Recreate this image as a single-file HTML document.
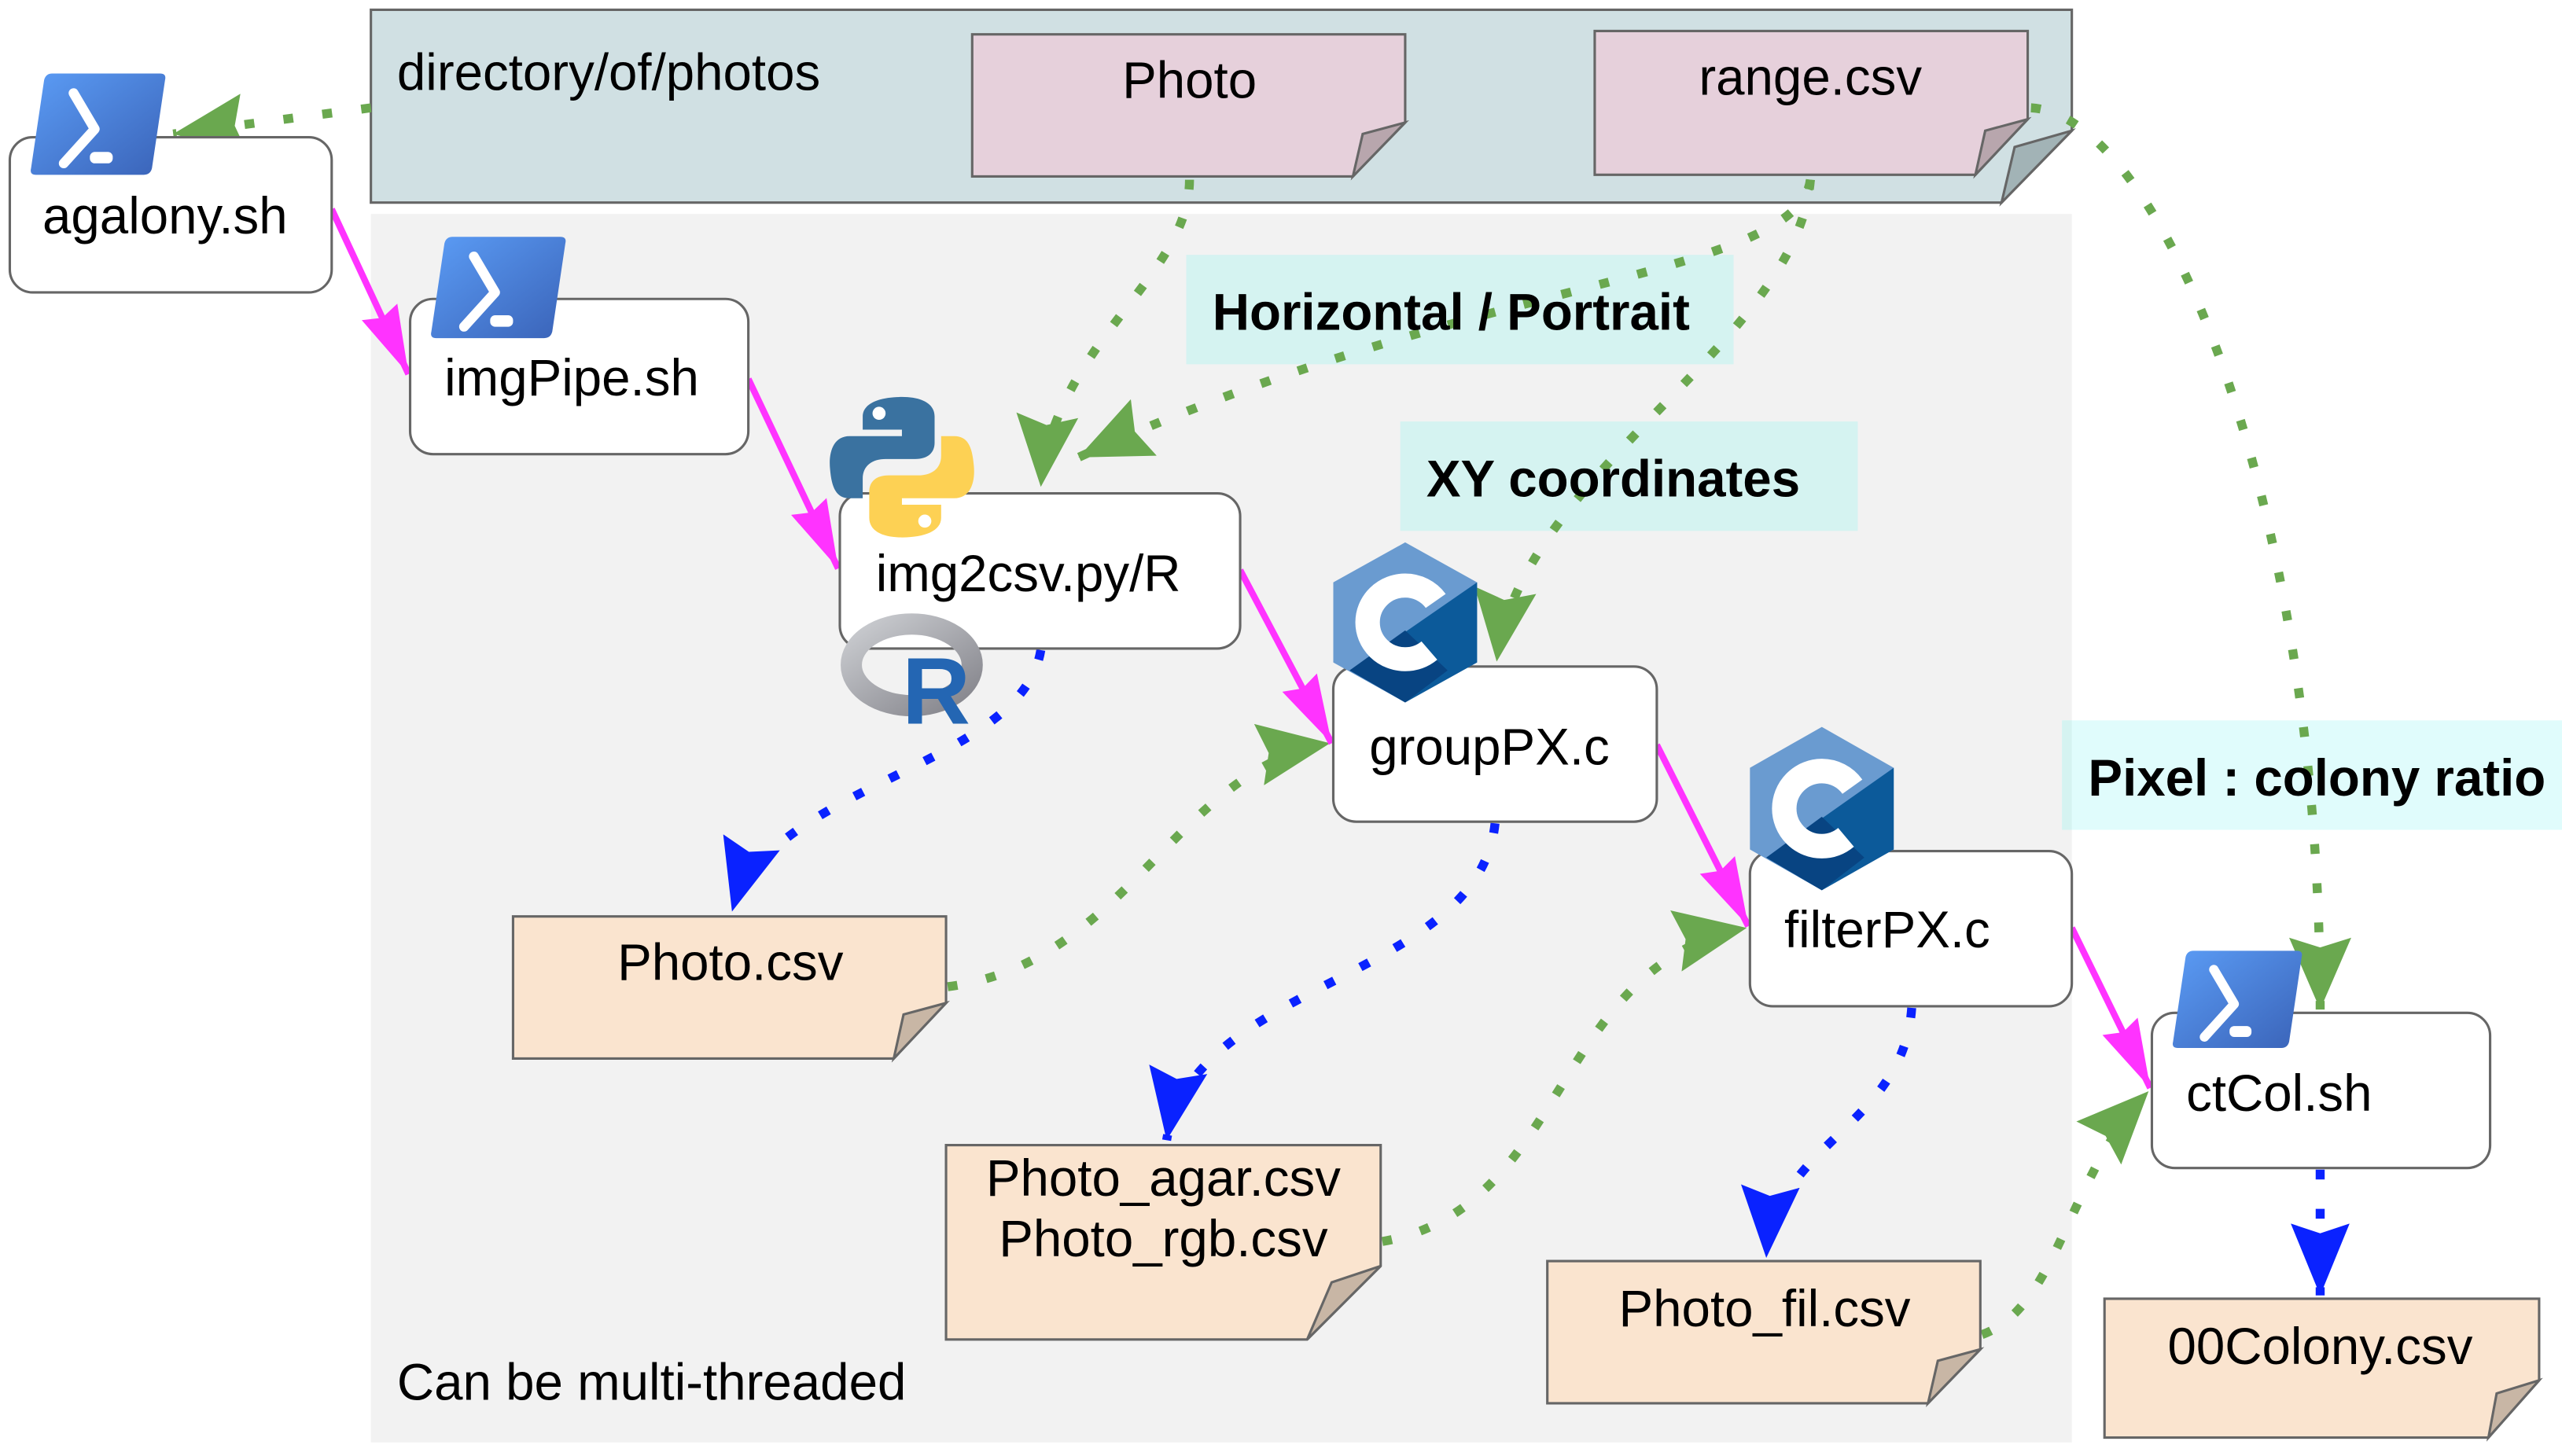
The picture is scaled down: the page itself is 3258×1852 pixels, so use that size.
<!DOCTYPE html>
<html><head><meta charset="utf-8"><style>
html,body{margin:0;padding:0;background:#fff}
svg{display:block}
text{font-family:"Liberation Sans",Arial,sans-serif;fill:#000}
</style></head><body>
<svg width="3258" height="1852" viewBox="0 0 1568 891.3" preserveAspectRatio="none" xmlns="http://www.w3.org/2000/svg">
<defs>
<marker id="mg" markerUnits="userSpaceOnUse" markerWidth="48" markerHeight="44" viewBox="0 0 48 44" refX="44" refY="22" orient="auto"><path d="M0,3 L44,22 L0,41 L6,22 Z" fill="#6aa84f"/></marker>
<marker id="mb" markerUnits="userSpaceOnUse" markerWidth="48" markerHeight="44" viewBox="0 0 48 44" refX="44" refY="22" orient="auto"><path d="M0,4 L44,22 L0,40 L6,22 Z" fill="#0a22ff"/></marker>
<marker id="mm" markerUnits="userSpaceOnUse" markerWidth="44" markerHeight="32" viewBox="0 0 44 32" refX="42" refY="16" orient="auto"><path d="M0,4 L42,16 L0,28 L4,16 Z" fill="#ff33ff"/></marker>
<linearGradient id="ps" x1="0" y1="0" x2="1" y2="1"><stop offset="0" stop-color="#5b9cf5"/><stop offset="1" stop-color="#3a63b8"/></linearGradient>
<linearGradient id="rg" x1="0" y1="0" x2="1" y2="1"><stop offset="0" stop-color="#cbcdd1"/><stop offset="1" stop-color="#84848b"/></linearGradient>
<g id="psi"><path d="M14,0 H80 Q84,0 83,4 L75,58 Q74,62 70,62 H4 Q0,62 1,58 L9,4 Q10,0 14,0 Z" fill="url(#ps)"/><path d="M27,12 L40,34 L21,55" fill="none" stroke="#fff" stroke-width="6" stroke-linecap="round" stroke-linejoin="round"/><rect x="37" y="48" width="14" height="7" rx="3" fill="#fff"/></g>
<g id="ci"><path d="M44,0 L88,25 L88,75 L44,100 L0,75 L0,25 Z" fill="#6a9bd0"/><path d="M88,25 L88,75 L44,100 L10,80 Z" fill="#0c5a9a"/><path d="M44,100 L10,80 L44,55 L70,80 Z" fill="#084482"/><circle cx="44" cy="50" r="23" fill="none" stroke="#fff" stroke-width="15" stroke-dasharray="110 40" stroke-dashoffset="-20"/></g>
</defs>

<rect x="227" y="131" width="1041" height="752" fill="#f2f2f2"/>
<path d="M227,6 H1268 V80 L1225,124 H227 Z" fill="#d0e0e3" stroke="#666" stroke-width="1.5"/>
<path d="M1268,80 L1233,90 L1225,124 Z" fill="#a2b3b6" stroke="#666" stroke-width="1.5"/>
<text x="243" y="55" font-size="31.5">directory/of/photos</text>

<path d="M595,21 H860 V75 L828,108 H595 Z" fill="#e6d0db" stroke="#666" stroke-width="1.5"/>
<path d="M860,75 L834,82 L828,108 Z" fill="#b8a6ad" stroke="#666" stroke-width="1.5"/>
<text x="728" y="60" font-size="31.5" text-anchor="middle">Photo</text>
<path d="M976,19 H1241 V73 L1209,107 H976 Z" fill="#e6d0db" stroke="#666" stroke-width="1.5"/>
<path d="M1241,73 L1215,80 L1209,107 Z" fill="#b8a6ad" stroke="#666" stroke-width="1.5"/>
<text x="1108" y="58" font-size="31.5" text-anchor="middle">range.csv</text>

<rect x="726" y="156" width="335" height="67" fill="#d5f3f1"/>
<rect x="857" y="258" width="280" height="67" fill="#d5f3f1"/>
<rect x="1262" y="441" width="306" height="67" fill="#e0fcfc"/>
<rect x="1262" y="441" width="6" height="67" fill="#d5f3f1"/>

<g fill="none" stroke="#6aa84f" stroke-width="5.5" stroke-dasharray="6 18">
<path d="M227,66 L106,82" marker-end="url(#mg)"/>
<path d="M728,110 C728,170 645,210 637,298" marker-end="url(#mg)"/>
<path d="M1108,110 C1100,170 900,170 660,280" marker-end="url(#mg)"/>
<path d="M1108,110 C1100,210 930,290 916,405" marker-end="url(#mg)"/>
<path d="M1243,66 C1320,70 1420,300 1420,618" marker-end="url(#mg)"/>
<path d="M580,604 C690,590 720,470 814,455" marker-end="url(#mg)"/>
<path d="M846,760 C960,740 950,590 1069,568" marker-end="url(#mg)"/>
<path d="M1213,817 C1260,800 1265,720 1315,668" marker-end="url(#mg)"/>
</g>
<g fill="none" stroke="#0a22ff" stroke-width="5.5" stroke-dasharray="6 18">
<path d="M637,398 C625,470 470,480 448,558" marker-end="url(#mb)"/>
<path d="M915,504 C905,600 730,600 714,698" marker-end="url(#mb)"/>
<path d="M1170,617 C1165,690 1085,700 1081,770" marker-end="url(#mb)"/>
<path d="M1420,716 L1420,793" marker-end="url(#mb)"/>
</g>
<g fill="none" stroke="#ff33ff" stroke-width="4">
<path d="M203,128 L250,229" marker-end="url(#mm)"/>
<path d="M458,232 L513,348" marker-end="url(#mm)"/>
<path d="M759,349 L815,455" marker-end="url(#mm)"/>
<path d="M1014,456 L1070,567" marker-end="url(#mm)"/>
<path d="M1268,568 L1316,666" marker-end="url(#mm)"/>
</g>

<text x="742" y="202" font-size="31.5" font-weight="bold">Horizontal / Portrait</text>
<text x="873" y="304" font-size="31.5" font-weight="bold">XY coordinates</text>
<text x="1278" y="487" font-size="31.5" font-weight="bold">Pixel : colony ratio</text>

<g fill="#fff" stroke="#666" stroke-width="1.5">
<rect x="6" y="84" width="197" height="95" rx="14"/>
<rect x="251" y="183" width="207" height="95" rx="14"/>
<rect x="514" y="302" width="245" height="95" rx="14"/>
<rect x="816" y="408" width="198" height="95" rx="14"/>
<rect x="1071" y="521" width="197" height="95" rx="14"/>
<rect x="1317" y="620" width="207" height="95" rx="14"/>
</g>
<g font-size="31.5">
<text x="26" y="143">agalony.sh</text>
<text x="272" y="242">imgPipe.sh</text>
<text x="536" y="362">img2csv.py/R</text>
<text x="838" y="468">groupPX.c</text>
<text x="1092" y="580">filterPX.c</text>
<text x="1338" y="680">ctCol.sh</text>
</g>

<g stroke="#666" stroke-width="1.5">
<path d="M314,561 H579 V614 L547,648 H314 Z" fill="#fae4cf"/>
<path d="M579,614 L553,621 L547,648 Z" fill="#c8b6a5"/>
<path d="M579,701 H845 V775 L800,820 H579 Z" fill="#fae4cf"/>
<path d="M845,775 L815,785 L800,820 Z" fill="#c8b6a5"/>
<path d="M947,772 H1212 V826 L1180,859 H947 Z" fill="#fae4cf"/>
<path d="M1212,826 L1186,833 L1180,859 Z" fill="#c8b6a5"/>
<path d="M1288,795 H1554 V845 L1523,880 H1288 Z" fill="#fae4cf"/>
<path d="M1554,845 L1528,853 L1523,880 Z" fill="#c8b6a5"/>
</g>
<g font-size="31.5" text-anchor="middle">
<text x="447" y="600">Photo.csv</text>
<text x="712" y="732">Photo_agar.csv</text>
<text x="712" y="769">Photo_rgb.csv</text>
<text x="1080" y="812">Photo_fil.csv</text>
<text x="1420" y="835">00Colony.csv</text>
</g>
<text x="243" y="857" font-size="31.5">Can be multi-threaded</text>

<use href="#psi" transform="translate(18,45)"/>
<use href="#psi" transform="translate(263,145)"/>
<use href="#psi" transform="translate(1329,582) scale(0.96)"/>
<use href="#ci" transform="translate(816,332) scale(1,0.98)"/>
<use href="#ci" transform="translate(1071,445)"/>
<g transform="translate(508,243)">
<path d="M44,0 C30,0 20,4 20,12 V20 H44 V24 H12 C2,24 -1,34 0,44 C1,56 4,62 12,62 H20 V50 C20,42 26,38 34,38 H52 C60,38 64,34 64,28 V12 C64,4 56,0 44,0 Z" fill="#3a72a0"/>
<circle cx="30" cy="10" r="4" fill="#fff"/>
<path d="M44,86 C58,86 68,82 68,74 V66 H44 V62 H76 C86,62 89,52 88,42 C87,30 84,24 76,24 H68 V36 C68,44 62,48 54,48 H36 C28,48 24,52 24,58 V74 C24,82 32,86 44,86 Z" fill="#fdd154"/>
<circle cx="58" cy="76" r="4" fill="#fff"/>
</g>
<ellipse cx="558" cy="407" rx="37" ry="25" fill="none" stroke="url(#rg)" stroke-width="13"/>
<text x="573" y="443" font-size="58" font-weight="bold" text-anchor="middle" style="fill:#2466b3">R</text>
</svg>
</body></html>
